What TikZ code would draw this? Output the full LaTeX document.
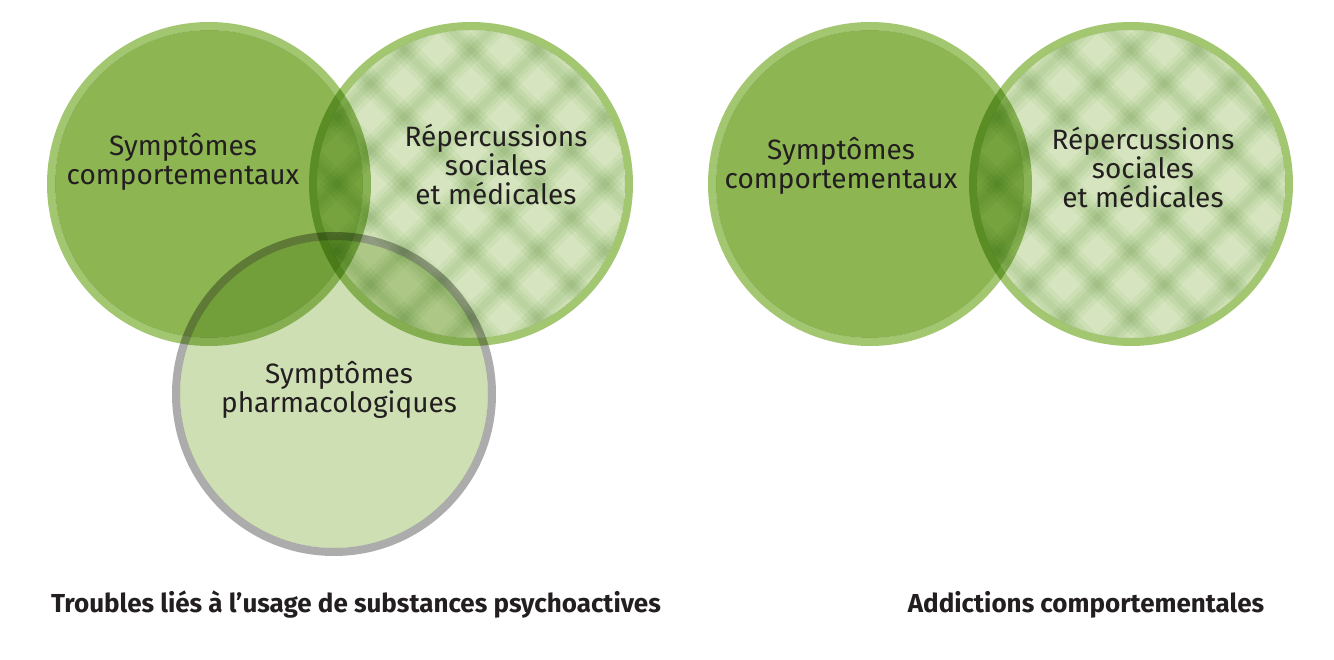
\documentclass[tikz,border=0pt]{standalone}
\usepackage{fontspec}
\setmainfont{Fira Sans}
\usetikzlibrary{positioning}
\definecolor{vertfonce}{RGB}{141,182,83}
\definecolor{vertbord}{RGB}{163,199,112}
\definecolor{vertpale}{RGB}{214,229,191}
\definecolor{vertpharma}{RGB}{207,223,180}
\definecolor{vertmotif}{RGB}{105,165,65}
\definecolor{grisbord}{RGB}{172,172,172}
\definecolor{encre}{RGB}{35,31,32}

\begin{document}
\begin{tikzpicture}[x=1pt,y=-1pt]
  \tikzset{
    anneau/.style={line width=8pt},
    trait/.style={draw=vertmotif, line width=#1, opacity=0.07},
    texte/.style={align=center, text=encre, inner sep=0pt,
      font=\fontsize{28}{29}\selectfont},
    legende/.style={text=encre, inner sep=0pt, anchor=base,
      font=\fontsize{26}{30}\selectfont\bfseries},
  }
  \useasboundingbox (0,0) rectangle (1334,660);
  % centres des cercles
  \coordinate (g1) at (209,184);
  \coordinate (g2) at (471,184);
  \coordinate (g3) at (334,394);
  \coordinate (d1) at (870,184);
  \coordinate (d2) at (1131,184);

  \begin{scope}[blend mode=multiply]
    \foreach \c in {g1,d1} {
      \fill[vertfonce] (\c) circle (154pt);
      \draw[anneau, draw=vertbord] (\c) circle (158pt);
    }
    \foreach \c in {g2,d2} {
      \begin{scope}[shift={(\c)}]
        \clip (0,0) circle (154pt);
        \fill[vertpale] (0,0) circle (154pt);
        \foreach \i in {-5,...,5} {
          \foreach \w in {24pt,15pt,7pt} {
            \draw[trait=\w] (\i*67-200,-200) -- ++(400,400);
            \draw[trait=\w] (\i*67-200,200) -- ++(400,-400);
          }
        }
      \end{scope}
      \draw[anneau, draw=vertbord] (\c) circle (158pt);
    }
    \fill[vertpharma] (g3) circle (154pt);
    \draw[anneau, draw=grisbord] (g3) circle (158pt);
  \end{scope}

  \node[texte] (g1t) at (183,162) {Symptômes\\comportementaux};
  \node[texte] (g2t) at (496,164) {Répercussions\\sociales\\et médicales};
  \node[texte] (g3t) at (339,390) {Symptômes\\pharmacologiques};
  \node[texte] (d1t) at (841,166) {Symptômes\\comportementaux};
  \node[texte] (d2t) at (1143,167) {Répercussions\\sociales\\et médicales};

  \node[legende] (gl) at (356,612) {Troubles liés à l’usage de substances psychoactives};
  \node[legende] (dl) at (1086,612) {Addictions comportementales};
\end{tikzpicture}
\end{document}
